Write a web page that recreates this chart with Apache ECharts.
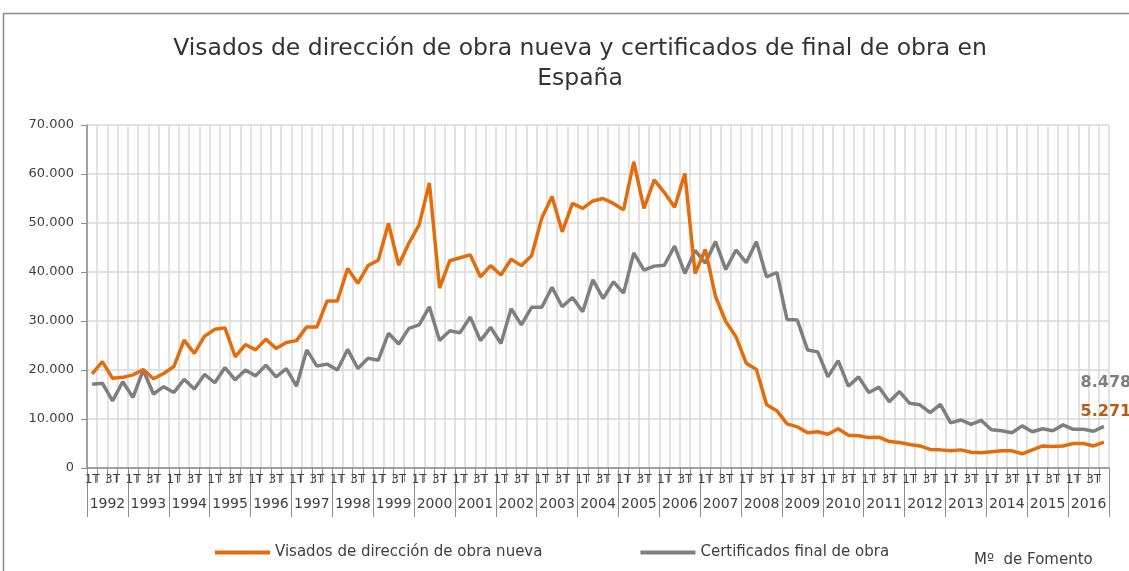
<!DOCTYPE html>
<html>
<head>
<meta charset="utf-8">
<script src="https://cdn.jsdelivr.net/npm/echarts@6/dist/echarts.min.js"></script>
<style>
  html, body { margin: 0; padding: 0; background: #fff; }
  #chart { width: 1129px; height: 571px; }
</style>
</head>
<body>
<div id="chart"></div>
<script>
// Quarterly series, 1992 T1 .. 2016 T4
const years = ['1992','1993','1994','1995','1996','1997','1998','1999','2000','2001','2002','2003',
  '2004','2005','2006','2007','2008','2009','2010','2011','2012','2013','2014','2015','2016'];
const quarterTicks = ['1T', '', '3T', ''];

const visados = [
  19200, 21700, 18300, 18500,
  19000, 20100, 18200, 19300,
  20700, 26100, 23400, 26900,
  28300, 28600, 22700, 25200,
  24100, 26300, 24400, 25600,
  26000, 28800, 28800, 34100,
  34100, 40700, 37700, 41300,
  42400, 49900, 41400, 45900,
  49600, 58200, 36700, 42300,
  42900, 43500, 39000, 41300,
  39400, 42600, 41300, 43300,
  51000, 55400, 48200, 54000,
  53000, 54500, 55000, 54000,
  52700, 62500, 53000, 58800,
  56200, 53200, 60100, 39700,
  44600, 35000, 29900, 26800,
  21400, 20100, 12900, 11700,
  9000, 8400, 7200, 7400,
  6900, 8000, 6700, 6600,
  6200, 6300, 5400, 5200,
  4800, 4500, 3800, 3700,
  3500, 3700, 3200, 3100,
  3300, 3500, 3500, 2900,
  3700, 4500, 4400, 4500,
  5000, 5000, 4500, 5271
];

const certificados = [
  17100, 17300, 13700, 17600,
  14400, 20000, 15100, 16600,
  15400, 18100, 16100, 19100,
  17400, 20500, 18000, 20000,
  18800, 21000, 18600, 20300,
  16700, 24100, 20800, 21200,
  20000, 24200, 20300, 22400,
  22000, 27500, 25300, 28500,
  29200, 32900, 26000, 28000,
  27600, 30800, 26000, 28700,
  25400, 32500, 29200, 32800,
  32800, 36900, 32900, 34800,
  31900, 38400, 34600, 38000,
  35700, 43900, 40400, 41200,
  41400, 45300, 39700, 44400,
  41800, 46200, 40500, 44500,
  41900, 46200, 39000, 39900,
  30300, 30200, 24100, 23700,
  18600, 21900, 16700, 18600,
  15400, 16500, 13500, 15600,
  13200, 12900, 11300, 13000,
  9200, 9800, 8900, 9700,
  7800, 7600, 7200, 8600,
  7400, 8000, 7600, 8800,
  7900, 7900, 7500, 8478
];

const quarters = [];
years.forEach(y => quarterTicks.forEach((q, k) => quarters.push(y + '-' + (k + 1))));

const ORANGE = '#E46C0A';
const GRAY = '#7F7F7F';
const FONT = '"DejaVu Sans", sans-serif';

const fmt = v => String(v).replace(/\B(?=(\d{3})+(?!\d))/g, '.');

// Bold value printed just above the last point of a series
function endLabel(color, dy) {
  return {
    show: true, distance: 0, align: 'center', verticalAlign: 'middle', offset: [2, dy],
    color: color, fontWeight: 'bold', fontSize: 16, fontFamily: FONT,
    formatter: p => fmt(p.value)
  };
}

const chart = echarts.init(document.getElementById('chart'));
chart.setOption({
  animation: false,
  backgroundColor: '#fff',
  textStyle: { fontFamily: FONT },
  title: {
    text: 'Visados de dirección de obra nueva y certificados de final de obra en\nEspaña',
    left: 575, textAlign: 'center', top: 29,
    textStyle: { fontFamily: FONT, fontSize: 23.5, fontWeight: 'normal', color: '#333', lineHeight: 30 }
  },
  graphic: [
    { type: 'rect', shape: { x: 3.5, y: 13.5, width: 1140, height: 600 },
      style: { fill: 'none', stroke: '#8c8c8c', lineWidth: 1.5 }, silent: true },
    { type: 'text', left: 974, top: 553,
      style: { text: 'Mº  de Fomento', fontSize: 15, fontFamily: FONT, fill: '#404040' } }
  ],
  legend: {
    left: 210, top: 540, itemGap: 98, itemWidth: 55, itemHeight: 4, icon: 'rect',
    textStyle: { fontSize: 15, color: '#404040', fontFamily: FONT },
    data: ['Visados de dirección de obra nueva', 'Certificados final de obra']
  },
  grid: { left: 87, right: 20, top: 125, bottom: 103, containLabel: false },
  xAxis: [
    {
      type: 'category', data: quarters, boundaryGap: true,
      axisLine: { show: true, lineStyle: { color: '#8c8c8c', width: 1.5 } },
      axisTick: { show: true, interval: 0, length: 14, lineStyle: { color: '#8c8c8c' } },
      axisLabel: { interval: 0, margin: 6, fontSize: 12, color: '#404040', fontFamily: FONT,
        formatter: (v, i) => quarterTicks[i % 4] },
      splitLine: { show: true, interval: 0, lineStyle: { color: '#D9D9D9', width: 1.5 } }
    },
    {
      type: 'category', data: years, boundaryGap: true, position: 'bottom',
      axisLine: { show: false },
      axisTick: { show: true, interval: 0, length: 49, lineStyle: { color: '#8c8c8c' } },
      axisLabel: { interval: 0, margin: 29, fontSize: 14, color: '#404040', fontFamily: FONT },
      splitLine: { show: false }
    }
  ],
  yAxis: {
    type: 'value', min: 0, max: 70000, interval: 10000,
    axisLine: { show: true, lineStyle: { color: '#8c8c8c', width: 1.5 } },
    axisTick: { show: true, length: 6, lineStyle: { color: '#8c8c8c' } },
    axisLabel: { fontSize: 13, color: '#404040', margin: 13, fontFamily: FONT, formatter: v => fmt(v) },
    splitLine: { show: true, lineStyle: { color: '#D9D9D9', width: 1.5 } }
  },
  series: [
    {
      name: 'Visados de dirección de obra nueva', type: 'line', xAxisIndex: 0,
      data: visados, symbol: 'none', smooth: false,
      lineStyle: { color: ORANGE, width: 3.5 }, itemStyle: { color: ORANGE },
      endLabel: endLabel('#B85A12', -30), z: 3
    },
    {
      name: 'Certificados final de obra', type: 'line', xAxisIndex: 0,
      data: certificados, symbol: 'none', smooth: false,
      lineStyle: { color: GRAY, width: 3.5 }, itemStyle: { color: GRAY },
      endLabel: endLabel(GRAY, -44), z: 2
    }
  ]
});
</script>
</body>
</html>
